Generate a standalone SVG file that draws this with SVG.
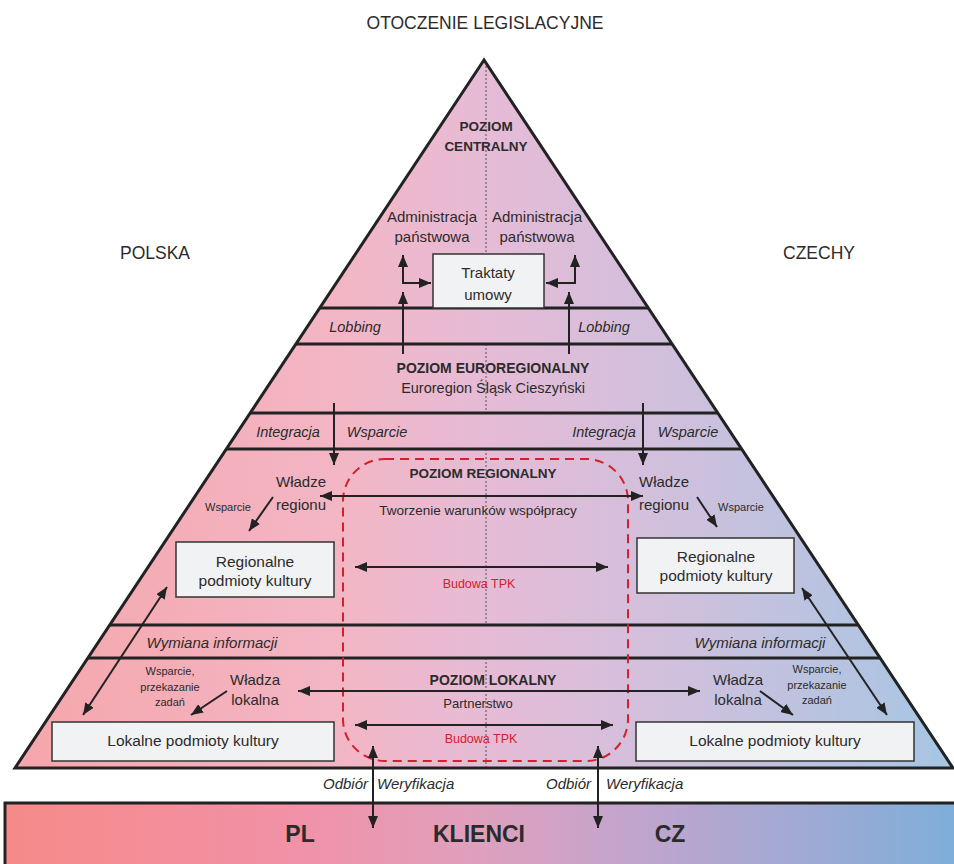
<svg xmlns="http://www.w3.org/2000/svg" width="954" height="864" viewBox="0 0 954 864">
<defs>
<linearGradient id="pg" gradientUnits="userSpaceOnUse" x1="15" y1="0" x2="953" y2="0">
<stop offset="0" stop-color="#f5a6ab"/>
<stop offset="0.35" stop-color="#f3b6c5"/>
<stop offset="0.5" stop-color="#e6bbd6"/>
<stop offset="0.7" stop-color="#d0c0dd"/>
<stop offset="1" stop-color="#a5c6e3"/>
</linearGradient>
<linearGradient id="bg" gradientUnits="userSpaceOnUse" x1="5" y1="0" x2="954" y2="0">
<stop offset="0" stop-color="#f58a88"/>
<stop offset="0.3" stop-color="#f291a7"/>
<stop offset="0.5" stop-color="#dfa0bd"/>
<stop offset="0.65" stop-color="#c4a4cc"/>
<stop offset="0.85" stop-color="#9eaad4"/>
<stop offset="1" stop-color="#7eaed9"/>
</linearGradient>
<marker id="ah" viewBox="0 0 12 10" refX="12" refY="5" markerWidth="12" markerHeight="10" markerUnits="userSpaceOnUse" orient="auto-start-reverse">
<path d="M0,0 L12,5 L0,10 z" fill="#222"/>
</marker>
<style>
text{font-family:"Liberation Sans",Arial,sans-serif;fill:#2b2b2b;text-anchor:middle}
.b{font-weight:bold}
.i{font-style:italic}
.red{fill:#d3202c}
.band{stroke:#222;stroke-width:3;fill:none}
.box{fill:#f1f2f4;stroke:#333;stroke-width:1.5}
.ar{stroke:#222;stroke-width:2;fill:none;marker-end:url(#ah)}
.ar2{stroke:#222;stroke-width:2;fill:none;marker-end:url(#ah);marker-start:url(#ah)}
.dot{stroke:#555;stroke-width:1;stroke-dasharray:2 2;fill:none}
</style>
</defs>

<g id="background">
<polygon points="484,60 15,768 953,768" fill="url(#pg)"/>
<rect x="5" y="803" width="960" height="70" fill="url(#bg)" stroke="#222" stroke-width="3"/>
<path class="dot" d="M486,62 V254 M486,344 V413 M486,449 V625 M486,658 V767"/>
<path class="band" d="M319.7,308 H648.3 M295.9,344 H672.1 M250.2,413 H717.8 M226.3,449 H741.7 M109.7,625 H858.3 M87.9,658 H880.1"/>
<polygon points="484,60 15,768 953,768" fill="none" stroke="#222" stroke-width="3" stroke-linejoin="miter"/>
</g>

<g id="titles">
<text x="485" y="29" font-size="17.5">OTOCZENIE LEGISLACYJNE</text>
<text x="155" y="259" font-size="17.5">POLSKA</text>
<text x="819" y="259" font-size="17.5">CZECHY</text>
</g>

<g id="tpk-zone">
<rect x="343" y="459" width="285" height="302" rx="42" fill="none" stroke="#d3202c" stroke-width="2" stroke-dasharray="9 6"/>
</g>

<g id="poziom-centralny">
<text class="b" x="486" y="131" font-size="13.5">POZIOM</text>
<text class="b" x="486" y="151" font-size="13.5">CENTRALNY</text>
</g>
<g id="admin-pl">
<text x="432" y="222" font-size="15">Administracja</text>
<text x="432" y="242" font-size="15">państwowa</text>
</g>
<g id="admin-cz">
<text x="537" y="222" font-size="15">Administracja</text>
<text x="537" y="242" font-size="15">państwowa</text>
</g>
<g id="traktaty">
<rect class="box" x="433" y="254" width="111" height="54"/>
<text x="488" y="278" font-size="15">Traktaty</text>
<text x="488" y="300" font-size="15">umowy</text>
</g>

<g id="poziom-euroregionalny">
<text class="b" x="493" y="373" font-size="14">POZIOM EUROREGIONALNY</text>
<text x="493" y="393" font-size="14.5">Euroregion Śląsk Cieszyński</text>
</g>

<g id="poziom-regionalny">
<text class="b" x="483" y="478" font-size="13.5">POZIOM REGIONALNY</text>
<text x="478" y="515" font-size="13.5">Tworzenie warunków współpracy</text>
<text class="red" x="479" y="588" font-size="12.5">Budowa TPK</text>
</g>
<g id="wladze-pl">
<text x="301" y="487" font-size="15">Władze</text>
<text x="301" y="510" font-size="15">regionu</text>
</g>
<g id="wladze-cz">
<text x="664" y="487" font-size="15">Władze</text>
<text x="664" y="510" font-size="15">regionu</text>
</g>
<g id="reg-pl">
<rect class="box" x="176" y="542" width="158" height="55"/>
<text x="255" y="567" font-size="15.5">Regionalne</text>
<text x="255" y="586" font-size="15.5">podmioty kultury</text>
</g>
<g id="reg-cz">
<rect class="box" x="637" y="538" width="157" height="55"/>
<text x="716" y="562" font-size="15.5">Regionalne</text>
<text x="716" y="581" font-size="15.5">podmioty kultury</text>
</g>

<g id="poziom-lokalny">
<text class="b" x="493" y="685" font-size="14">POZIOM LOKALNY</text>
<text x="478" y="708" font-size="13">Partnerstwo</text>
<text class="red" x="481" y="743" font-size="12.5">Budowa TPK</text>
</g>
<g id="wladza-pl">
<text x="255" y="685" font-size="15">Władza</text>
<text x="255" y="705" font-size="15">lokalna</text>
</g>
<g id="wladza-cz">
<text x="738" y="685" font-size="15">Władza</text>
<text x="738" y="705" font-size="15">lokalna</text>
</g>
<g id="lok-pl">
<rect class="box" x="52" y="722" width="282" height="39"/>
<text x="193" y="746" font-size="15.5">Lokalne podmioty kultury</text>
</g>
<g id="lok-cz">
<rect class="box" x="636" y="722" width="278" height="39"/>
<text x="775" y="746" font-size="15.5">Lokalne podmioty kultury</text>
</g>

<g id="klienci">
<text class="b" x="300" y="842" font-size="23">PL</text>
<text class="b" x="479" y="842" font-size="23">KLIENCI</text>
<text class="b" x="670" y="842" font-size="23">CZ</text>
</g>

<g id="connectors">
<path class="ar2" d="M403,255 V283 H431"/>
<path class="ar2" d="M575,255 V283 H546"/>
<path class="ar" d="M403,354 V292"/>
<path class="ar" d="M569,354 V292"/>
<path class="ar" d="M334,403 V465"/>
<path class="ar" d="M643,403 V465"/>
<path class="ar2" d="M320,496 H643"/>
<path class="ar" d="M273,497 L249,531"/>
<path class="ar" d="M697,497 L717,527"/>
<path class="ar2" d="M355,567 H608"/>
<path class="ar2" d="M167,587 L83,715"/>
<path class="ar2" d="M802,588 L887,715"/>
<path class="ar2" d="M298,691 H700"/>
<path class="ar" d="M227,691 L191,715"/>
<path class="ar" d="M760,691 L793,715"/>
<path class="ar2" d="M355,725 H613"/>
<path class="ar2" d="M373,746 V828"/>
<path class="ar2" d="M598,746 V828"/>
</g>

<g id="connector-labels">
<text class="i" x="355" y="332" font-size="14.5">Lobbing</text>
<text class="i" x="604" y="332" font-size="14.5">Lobbing</text>
<text class="i" x="288" y="437" font-size="14.5">Integracja</text>
<text class="i" x="377" y="437" font-size="14.5">Wsparcie</text>
<text class="i" x="604" y="437" font-size="14.5">Integracja</text>
<text class="i" x="688" y="437" font-size="14.5">Wsparcie</text>
<text x="228" y="511" font-size="11">Wsparcie</text>
<text x="741" y="511" font-size="11">Wsparcie</text>
<text class="i" x="212" y="648" font-size="15">Wymiana informacji</text>
<text class="i" x="760" y="648" font-size="15">Wymiana informacji</text>
<text x="170" y="675" font-size="11">Wsparcie,</text>
<text x="170" y="691" font-size="11">przekazanie</text>
<text x="170" y="706" font-size="11">zadań</text>
<text x="817" y="673" font-size="11">Wsparcie,</text>
<text x="817" y="689" font-size="11">przekazanie</text>
<text x="817" y="704" font-size="11">zadań</text>
<text class="i" x="368" y="789" font-size="15" style="text-anchor:end">Odbiór</text>
<text class="i" x="377" y="789" font-size="15" style="text-anchor:start">Weryfikacja</text>
<text class="i" x="591" y="789" font-size="15" style="text-anchor:end">Odbiór</text>
<text class="i" x="606" y="789" font-size="15" style="text-anchor:start">Weryfikacja</text>
</g>
</svg>
